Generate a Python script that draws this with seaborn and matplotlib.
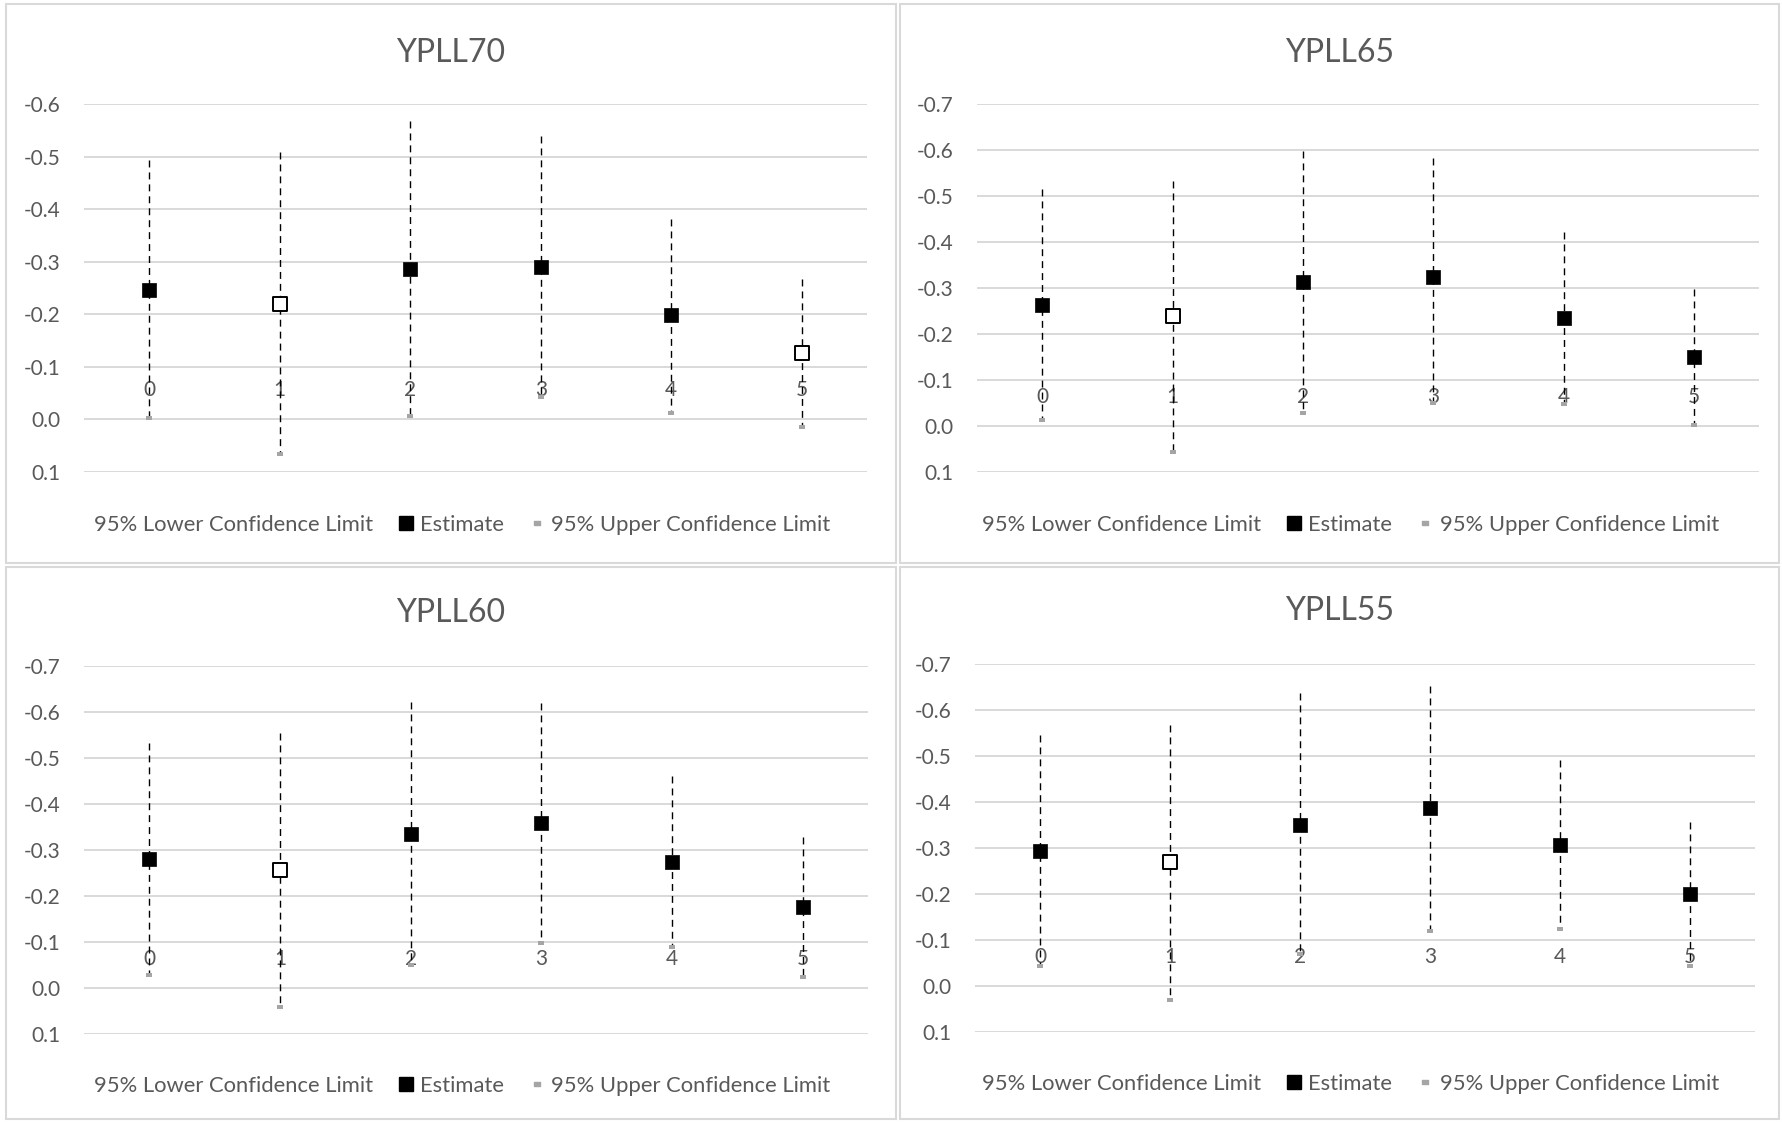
import matplotlib
matplotlib.use("Agg")
import matplotlib.pyplot as plt
import seaborn as sns
import pandas as pd
from matplotlib.lines import Line2D
from matplotlib.patches import Rectangle

# ---------------- data ----------------
categories = [0, 1, 2, 3, 4, 5]
titles = ["YPLL70", "YPLL65", "YPLL60", "YPLL55"]

ypll70_lower = [-0.493, -0.508, -0.567, -0.540, -0.381, -0.267]
ypll70_est = [-0.247, -0.220, -0.286, -0.290, -0.198, -0.126]
ypll70_upper = [-0.002, 0.065, -0.006, -0.043, -0.013, 0.014]
ypll70_open = [False, True, False, False, False, True]

ypll65_lower = [-0.516, -0.533, -0.597, -0.582, -0.421, -0.297]
ypll65_est = [-0.264, -0.240, -0.313, -0.324, -0.234, -0.149]
ypll65_upper = [-0.012, 0.056, -0.028, -0.050, -0.048, -0.003]
ypll65_open = [False, True, False, False, False, False]

ypll60_lower = [-0.533, -0.554, -0.621, -0.619, -0.460, -0.328]
ypll60_est = [-0.280, -0.256, -0.335, -0.358, -0.274, -0.176]
ypll60_upper = [-0.028, 0.041, -0.050, -0.097, -0.089, -0.024]
ypll60_open = [False, True, False, False, False, False]

ypll55_lower = [-0.546, -0.568, -0.638, -0.653, -0.491, -0.356]
ypll55_est = [-0.293, -0.269, -0.350, -0.387, -0.306, -0.201]
ypll55_upper = [-0.044, 0.030, -0.069, -0.120, -0.123, -0.044]
ypll55_open = [False, True, False, False, False, False]

yticks_70 = [-0.6, -0.5, -0.4, -0.3, -0.2, -0.1, 0.0, 0.1]
yticks_other = [-0.7, -0.6, -0.5, -0.4, -0.3, -0.2, -0.1, 0.0, 0.1]

legend_labels = ["95% Lower Confidence Limit", "Estimate", "95% Upper Confidence Limit"]

panels = [
    (titles[0], ypll70_lower, ypll70_est, ypll70_upper, ypll70_open, yticks_70),
    (titles[1], ypll65_lower, ypll65_est, ypll65_upper, ypll65_open, yticks_other),
    (titles[2], ypll60_lower, ypll60_est, ypll60_upper, ypll60_open, yticks_other),
    (titles[3], ypll55_lower, ypll55_est, ypll55_upper, ypll55_open, yticks_other),
]

# ---------------- style ----------------
sns.set_theme(style="white")
plt.rcParams["font.family"] = ["Lato", "DejaVu Sans"]
TEXT = "#595959"
GRID = "#D9D9D9"
UPPER = "#A5A5A5"

W, H = 1783, 1122
fig = plt.figure(figsize=(W / 100, H / 100), dpi=100)
fig.patch.set_facecolor("white")

# pixel layouts: (axes x0, x1, y0, y1), (panel box x0, x1, y0, y1), title y, legend y
layouts = [
    ((84, 867, 104, 472), (6, 896, 4, 563), 53, 525),
    ((977, 1759, 104, 472), (900, 1779, 4, 563), 53, 525),
    ((84, 868, 666, 1034), (6, 896, 567, 1119), 613, 1086),
    ((975, 1755, 664, 1032), (900, 1779, 567, 1119), 611, 1084),
]

rect_marker = [(-1, -0.5), (1, -0.5), (1, 0.5), (-1, 0.5), (-1, -0.5)]

for (title, lower, est, upper, is_open, yticks), (axr, box, ty, ly) in zip(panels, layouts):
    ax0, ax1, ay0, ay1 = axr
    ax = fig.add_axes([ax0 / W, 1 - ay1 / H, (ax1 - ax0) / W, (ay1 - ay0) / H])
    df = pd.DataFrame({"cat": categories, "lower": lower, "est": est,
                       "upper": upper, "open": is_open})

    # dashed range lines
    ax.vlines(df["cat"], df["lower"], df["upper"], colors="black",
              linestyles=(0, (5, 3.6)), linewidth=1.0, zorder=3)
    # upper limit markers
    sns.scatterplot(data=df, x="cat", y="upper", marker=rect_marker, s=22,
                    color=UPPER, edgecolor=UPPER, linewidth=0, ax=ax, zorder=4)
    # estimates
    filled = df[~df["open"]]
    hollow = df[df["open"]]
    sns.scatterplot(data=filled, x="cat", y="est", marker="s", s=110,
                    color="black", edgecolor="black", linewidth=0.5, ax=ax, zorder=5)
    if len(hollow):
        sns.scatterplot(data=hollow, x="cat", y="est", marker="s", s=90,
                        color="white", edgecolor="black", linewidth=1.4, ax=ax, zorder=5)

    ax.set_xlim(-0.5, 5.5)
    ax.set_ylim(yticks[-1], yticks[0])
    ax.set_yticks(yticks)
    ax.set_yticklabels([f"{v:.1f}" for v in yticks])
    ax.yaxis.grid(True, color=GRID, linewidth=1.4)
    ax.xaxis.grid(False)
    ax.set_axisbelow(True)
    for sp in ax.spines.values():
        sp.set_visible(False)
    ax.spines["top"].set_position(("data", 0.0))
    ax.xaxis.tick_top()
    ax.set_xticks(categories)
    ax.set_xticklabels([str(c) for c in categories])
    ax.tick_params(axis="x", length=0, pad=14, labelsize=15, colors=TEXT)
    ax.tick_params(axis="y", length=0, pad=17, labelsize=15, colors=TEXT)
    ax.set_xlabel("")
    ax.set_ylabel("")
    ax.patch.set_alpha(0)

    bx0, bx1, by0, by1 = box
    fig.add_artist(Rectangle((bx0 / W, 1 - by1 / H), (bx1 - bx0) / W, (by1 - by0) / H,
                             transform=fig.transFigure, fill=False,
                             edgecolor=GRID, linewidth=1.5))
    cx = (bx0 + bx1) / 2 / W
    fig.text(cx, 1 - ty / H, title, ha="center", va="center", fontsize=23, color=TEXT)

    handles = [
        Line2D([], [], linestyle="none"),
        Line2D([], [], linestyle="none", marker="s", color="black", markersize=10.5),
        Line2D([], [], linestyle="none", marker=rect_marker, color=UPPER, markersize=4.5),
    ]
    fig.legend(handles, legend_labels, loc="center", bbox_to_anchor=(cx, 1 - ly / H),
               ncol=3, frameon=False, fontsize=15.8, labelcolor=TEXT,
               handlelength=0.7, handletextpad=0.3, columnspacing=1.15,
               bbox_transform=fig.transFigure)

fig.savefig("out.png", dpi=100, facecolor="white")
